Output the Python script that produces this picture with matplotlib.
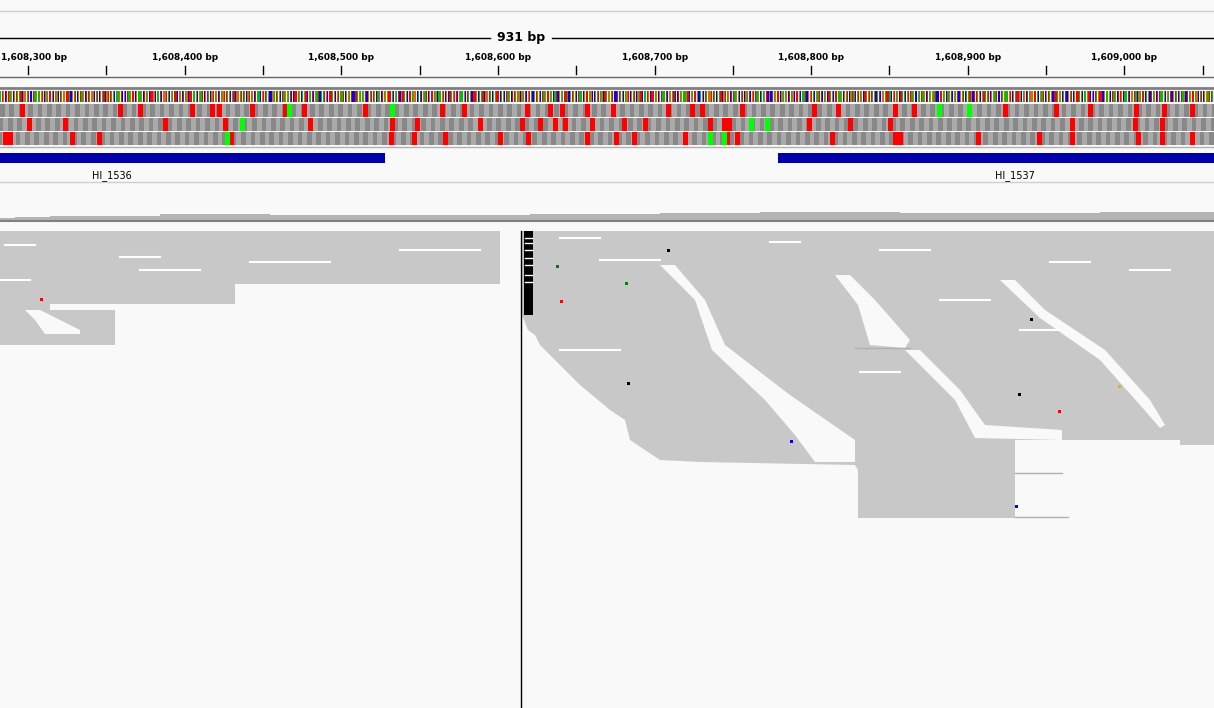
import matplotlib.pyplot as plt
from matplotlib.patches import Rectangle, Polygon

# genomic window
bp0 = 1608282
px_per_bp = 1.566
tick_bp = [1608300, 1608400, 1608500, 1608600, 1608700, 1608800, 1608900, 1609000]
tick_labels = ['1,608,300 bp', '1,608,400 bp', '1,608,500 bp', '1,608,600 bp',
               '1,608,700 bp', '1,608,800 bp', '1,608,900 bp', '1,609,000 bp']
width_label = '931 bp'

seq_block = ('ATGCTTAGCGTAATCGGATCCTAGAAGTCGATTGCAGCTAGGTTACGATCGTAGCTTAGGCATCGATCG'
             'TTAGCAAGTCGCTAGTTCGAAGCTAGCTTGCAATCGGTACGATTCAGCTAGCTTAAGCGATCGTACGTA'
             'GCTAGTTAGCATCGGATTACGTAGCTAACGTTAGCCGATAGCTAGGATCCTTAGCAGTCGATCGATCA')
base_col = {'A': '#00c000', 'C': '#0000ff', 'G': '#d17105', 'T': '#ff0000'}

# stop (red) / start (green) codons per frame, pixel x
frame_red = [
    [20, 118, 138, 190, 210, 217, 250, 283, 302, 363, 440, 462, 525, 548, 560, 585, 611,
     666, 690, 700, 740, 812, 836, 893, 912, 1003, 1054, 1088, 1134, 1162, 1190],
    [27, 63, 163, 223, 308, 390, 415, 478, 520, 538, 553, 563, 590, 622, 643, 708, 722,
     727, 807, 848, 888, 1070, 1133, 1160],
    [3, 8, 70, 97, 229, 389, 412, 443, 498, 526, 585, 614, 632, 683, 725, 735, 830,
     893, 898, 976, 1037, 1070, 1136, 1160, 1190],
]
frame_green = [[287, 390, 937, 967], [240, 749, 765], [225, 708, 722]]

genes = [('HI_1536', 1608270, 1608528, 112), ('HI_1537', 1608779, 1609060, 1015)]

# coverage profile (x px, height px)
cov_x = [0, 15, 50, 140, 160, 270, 500, 530, 660, 760, 900, 1100, 1214]
cov_h = [2, 3, 4, 4, 6, 5, 5, 6, 7, 8, 7, 8, 8]

# pileup outlines (px)
left_x = [0, 500, 500, 235, 235, 50, 50, 115, 115, 0]
left_y = [231, 231, 284, 284, 304, 304, 310, 310, 345, 345]
right_x = [522, 1214, 1214, 1180, 1180, 1015, 1015, 858, 858, 855,
           700, 660, 645, 630, 625, 610, 598, 580, 565, 550, 540, 535, 528, 522]
right_y = [231, 231, 445, 445, 440, 440, 518, 518, 470, 465,
           462, 460, 450, 440, 420, 410, 400, 385, 370, 355, 345, 335, 330, 315]
gaps = [
    ([660, 675, 705, 725, 790, 855, 855, 815, 795, 765, 712, 695],
     [265, 265, 300, 345, 395, 440, 462, 462, 435, 400, 350, 300]),
    ([835, 850, 875, 910, 905, 870, 858],
     [275, 275, 300, 340, 348, 345, 305]),
    ([905, 920, 960, 985, 1062, 1062, 975, 955],
     [350, 350, 390, 425, 430, 440, 438, 400]),
    ([1000, 1015, 1045, 1105, 1150, 1165, 1160, 1140, 1100, 1040],
     [280, 280, 310, 350, 400, 425, 428, 405, 360, 318]),
    ([25, 40, 80, 80, 45, 35], [310, 310, 330, 334, 334, 320]),
]
thin_reads = [(1015, 1062, 473), (1015, 1068, 517), (855, 910, 348)]
white_rows = [(5, 35, 245), (120, 160, 257), (250, 330, 262), (400, 480, 250),
              (0, 30, 280), (140, 200, 270), (560, 600, 238), (770, 800, 242),
              (880, 930, 250), (1050, 1090, 262), (1130, 1170, 270), (600, 660, 260),
              (940, 990, 300), (1020, 1060, 330), (560, 620, 350), (860, 900, 372)]
dots = [(556, 265, 'green'), (560, 300, 'red'), (627, 382, 'black'), (667, 249, 'black'),
        (1030, 318, 'black'), (1018, 393, 'black'), (790, 440, 'blue'), (1015, 505, 'blue'),
        (1058, 410, 'red'), (625, 282, 'green'), (1118, 385, 'orange'), (40, 298, 'red')]

fig = plt.figure(figsize=(12.14, 7.08), dpi=100, facecolor='#f9f9f9')
ax = fig.add_axes((0, 0, 1, 1))
ax.set_xlim(0, 1214)
ax.set_ylim(708, 0)
ax.axis('off')


def bx(b):
    return (b - bp0) * px_per_bp


# ruler
ax.axhline(11, color='#d0d0d0', lw=1)
ax.plot([0, 490], [38, 38], color='black', lw=1)
ax.plot([552, 1214], [38, 38], color='black', lw=1)
ax.text(521, 38, width_label, ha='center', va='center', fontsize=9, fontweight='bold')
for i, (b, lab) in enumerate(zip(tick_bp, tick_labels)):
    x = bx(b)
    if i == 0:
        ax.text(1, 58, lab, ha='left', va='center', fontsize=6.5, fontweight='bold')
    else:
        ax.text(x, 58, lab, ha='center', va='center', fontsize=6.5, fontweight='bold')
    ax.plot([x, x], [66, 74], color='black', lw=1)
    ax.plot([x + 50 * px_per_bp] * 2, [66, 74], color='black', lw=1)
ax.axhline(77, color='#666666', lw=1)
ax.axhline(88, color='#808080', lw=2)

# sequence
n = int(1214 / px_per_bp) + 2
seq = (seq_block * 5)[:n]
for i, c in enumerate(seq):
    ax.add_patch(Rectangle((i * px_per_bp, 91), px_per_bp * 0.75, 11, color=base_col[c], lw=0))

# translation frames
for f in range(3):
    y = 104 + f * 14
    k = 0
    x = -f * px_per_bp
    while x < 1214:
        col = '#888888' if k % 2 == 0 else '#aaaaaa'
        ax.add_patch(Rectangle((x, y), 3 * px_per_bp, 13, color=col, lw=0))
        x += 3 * px_per_bp
        k += 1
    for xr in frame_red[f]:
        ax.add_patch(Rectangle((xr, y), 3 * px_per_bp, 13, color='#ff0000', lw=0))
    for xg in frame_green[f]:
        ax.add_patch(Rectangle((xg, y), 3 * px_per_bp, 13, color='#00ff00', lw=0))
ax.axhline(146.5, color='#b0b0b0', lw=1)

# genes
for name, s, e, lx in genes:
    ax.add_patch(Rectangle((bx(s), 153), bx(e) - bx(s), 10, color='#0000aa', lw=0))
    ax.text(lx, 176, name, ha='center', va='center', fontsize=7)
ax.axhline(181.5, color='#d0d0d0', lw=1)

# coverage
ax.fill_between(cov_x, [220 - h for h in cov_h], 220, step='post', color='#b4b4b4', lw=0)
ax.axhline(221, color='#808080', lw=1.5)

# alignments
ax.add_patch(Polygon(list(zip(left_x, left_y)), closed=True, color='#c8c8c8', lw=0))
ax.add_patch(Polygon(list(zip(right_x, right_y)), closed=True, color='#c8c8c8', lw=0))
for gx, gy in gaps:
    ax.add_patch(Polygon(list(zip(gx, gy)), closed=True, color='#f9f9f9', lw=0))
for x0, x1, y in thin_reads:
    ax.plot([x0, x1], [y, y], color='#b0b0b0', lw=1)
for x0, x1, y in white_rows:
    ax.plot([x0, x1], [y, y], color='white', lw=1.5)
for x, y, c in dots:
    ax.add_patch(Rectangle((x, y), 3, 3, color=c, lw=0))
ax.add_patch(Rectangle((524, 231), 9, 84, color='black', lw=0))
for y in [238, 243, 250, 258, 265, 275, 282]:
    ax.plot([525, 532], [y, y], color='white', lw=1)
ax.plot([521, 521], [231, 708], color='black', lw=1)

fig.savefig('out.png', dpi=100, facecolor=fig.get_facecolor())
